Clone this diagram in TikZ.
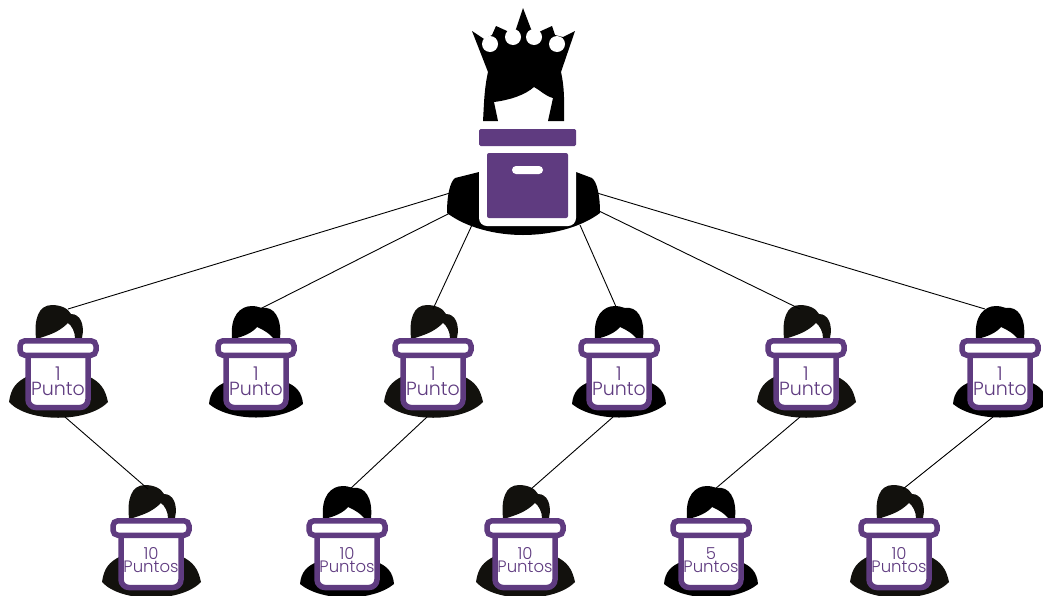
\documentclass[tikz,border=0pt]{standalone}
\usepackage{fontspec}
\setmainfont{Poppins Light}
\usepackage{xcolor}
\definecolor{boxpurple}{HTML}{5F3B80}
\definecolor{hairdark}{HTML}{12110D}

\begin{document}
\begin{tikzpicture}[x=1pt,y=-1pt,
	link/.style={draw=black,line width=0.9pt},
	lid/.style={draw=boxpurple,fill=white,line width=5.5pt,rounded corners=5pt},
	points/.style={text=boxpurple,align=center,inner sep=0pt,font=\fontsize{#1}{#1}\selectfont},
	womanA/.pic={
		\fill[hairdark] (-49,64) .. controls (-47,50) and (-42,44) .. (-30,38) -- (30,38) .. controls (42,44) and (47,50) .. (50,64) .. controls (30,85) and (-30,85) .. (-49,64);
		\fill[hairdark] (-22,0) .. controls (-24,-18) and (-20,-33) .. (-6,-33) .. controls (2,-33) and (10,-30) .. (13,-24) .. controls (22,-24) and (27,-14) .. (24,0) -- (17,0) .. controls (17,-6) and (14,-12) .. (10,-15) .. controls (0,-5) and (-10,-3) .. (-18,0) -- cycle;
		\coordinate (-top) at (0,-29);
		\coordinate (-bot) at (0,79);
	},
	womanB/.pic={
		\fill[black] (-47,66) .. controls (-46,54) and (-40,48) .. (-30,44) -- (30,44) .. controls (40,48) and (46,54) .. (47,66) .. controls (25,84) and (-25,84) .. (-47,66);
		\fill[black] (-19,0) -- (-24,0) .. controls (-26,-22) and (-16,-32) .. (-4,-32) .. controls (2,-32) and (4,-30) .. (6,-30) .. controls (18,-32) and (26,-20) .. (24,0) -- (17,0) .. controls (14,-4) and (8,-8) .. (1,-11) .. controls (-4,-5) and (-12,-2) .. (-19,0) -- cycle;
		\coordinate (-top) at (0,-29);
		\coordinate (-bot) at (0,79);
	},
	boxopen/.pic={
		\draw[lid,rounded corners=8pt] (-30,17) -- (-30,69.5) -- (30,69.5) -- (30,17);
		\draw[lid] (-38,2.75) rectangle (38,17.25);
	}]
	\useasboundingbox (0,0) rectangle (1043,595);

	% queen
	\coordinate (root-a) at (450,193);
	\coordinate (root-b) at (450,213);
	\coordinate (root-c) at (472,225);
	\coordinate (root-d) at (580,225);
	\coordinate (root-e) at (597,210);
	\coordinate (root-f) at (597,193);
	\fill[black] (447,213) .. controls (447,195) and (450,182) .. (455,178) -- (479,172) -- (576,172) -- (592,178) .. controls (597,182) and (600,195) .. (600,213) .. controls (580,228) and (550,235) .. (523,235) .. controls (496,235) and (467,228) .. (447,213) -- cycle;
	\fill[black] (523,8) -- (531,29) -- (534,35) -- (541,31) -- (552,26) -- (555,35) -- (563,37) -- (575,31) -- (561,72) .. controls (565,90) and (564,105) .. (564,121) -- (548,121) -- (553,98) .. controls (545,96) and (540,90) .. (534,87) .. controls (525,95) and (510,100) .. (494,102) -- (498,121) -- (483,121) .. controls (484,105) and (484,90) .. (488,72) -- (472,31) -- (484,39) -- (492,35) -- (496,26) -- (507,31) -- (513,35) -- (516,29) -- cycle;
	\foreach \cx/\cy in {490/44,513/37,534/37,557/44}
		\fill[white] (\cx,\cy) circle (8);
	\fill[white,rounded corners=8pt] (479,147) rectangle (576,226);
	\fill[white] (479,146) rectangle (576,160);
	\fill[boxpurple,rounded corners=1.5pt] (479,129) rectangle (576,146);
	\fill[boxpurple,rounded corners=2pt] (487,153) rectangle (568,218);
	\fill[white,rounded corners=4pt] (512,166) rectangle (543,174);

	% first row
	\pic (p1) at (58,338) {womanA};
	\pic at (58,338) {boxopen};
	\node[points=19] (t1) at (58,381) {1\\[-4pt]Punto};
	\pic (p2) at (256,338) {womanB};
	\pic at (256,338) {boxopen};
	\node[points=19] (t2) at (256,381) {1\\[-4pt]Punto};
	\pic (p3) at (433,338) {womanA};
	\pic at (433,338) {boxopen};
	\node[points=19] (t3) at (433,381) {1\\[-4pt]Punto};
	\pic (p4) at (619,338) {womanB};
	\pic at (619,338) {boxopen};
	\node[points=19] (t4) at (619,381) {1\\[-4pt]Punto};
	\pic (p5) at (806,338) {womanA};
	\pic at (806,338) {boxopen};
	\node[points=19] (t5) at (806,381) {1\\[-4pt]Punto};
	\pic (p6) at (1000,338) {womanB};
	\pic at (1000,338) {boxopen};
	\node[points=19] (t6) at (1000,381) {1\\[-4pt]Punto};

	% second row
	\pic (q1) at (151,518) {womanA};
	\pic at (151,518) {boxopen};
	\node[points=16.5] (u1) at (151,560) {10\\[-3pt]Puntos};
	\pic (q2) at (347,518) {womanB};
	\pic at (347,518) {boxopen};
	\node[points=16.5] (u2) at (347,560) {10\\[-3pt]Puntos};
	\pic (q3) at (525,518) {womanA};
	\pic at (525,518) {boxopen};
	\node[points=16.5] (u3) at (525,560) {10\\[-3pt]Puntos};
	\pic (q4) at (711,518) {womanB};
	\pic at (711,518) {boxopen};
	\node[points=16.5] (u4) at (711,560) {5\\[-3pt]Puntos};
	\pic (q5) at (899,518) {womanA};
	\pic at (899,518) {boxopen};
	\node[points=16.5] (u5) at (899,560) {10\\[-3pt]Puntos};

	\draw[link] (root-a) -- ([xshift=10pt]p1-top);
	\draw[link] (root-b) -- ([xshift=4pt]p2-top);
	\draw[link] (root-c) -- (p3-top);
	\draw[link] (root-d) -- ([xshift=-2pt]p4-top);
	\draw[link] (root-e) -- ([xshift=-6pt]p5-top);
	\draw[link] (root-f) -- ([xshift=-15pt]p6-top);
	\draw[link] ([xshift=7pt]p1-bot) -- ([xshift=-3pt]q1-top);
	\draw[link] ([xshift=-6pt]p3-bot) -- ([xshift=3pt]q2-top);
	\draw[link] ([xshift=-6pt]p4-bot) -- ([xshift=6pt]q3-top);
	\draw[link] ([xshift=-6pt]p5-bot) -- ([xshift=4pt]q4-top);
	\draw[link] ([xshift=-7pt]p6-bot) -- ([xshift=4pt]q5-top);
\end{tikzpicture}
\end{document}
